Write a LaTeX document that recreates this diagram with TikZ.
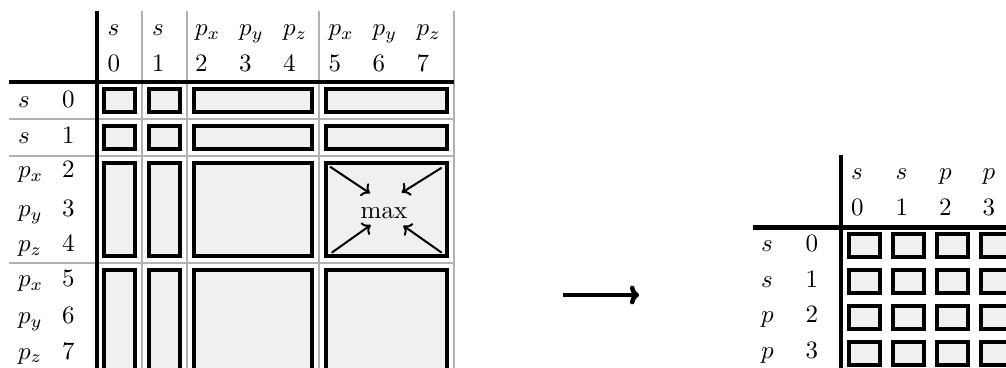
\documentclass[tikz,border=0pt]{standalone}
\usetikzlibrary{arrows.meta}
\tikzset{
  axisline/.style={line width=1.7pt, black},
  gridline/.style={line width=0.8pt, black!30},
  cellbox/.style={line width=1.6pt, draw=black, fill=black!6},
  lbl/.style={anchor=base west, inner sep=0pt, outer sep=0pt},
  pointer/.style={line width=0.8pt, -{To[length=3pt,width=6pt]}},
  mapsto/.style={line width=1.8pt, -{To[length=3.6pt,width=7.5pt]}},
}
\begin{document}
\begin{tikzpicture}[x=0.4pt, y=-0.4pt]
\useasboundingbox (0,0) rectangle (1006,367);
\clip (0,0) rectangle (1006,367);

% ---------- full 8x8 matrix ----------
% light separators between orbital blocks
\foreach \xx in {142.3, 186.7, 319.3, 454}
  \draw[gridline] (\xx,11) -- (\xx,380);
\foreach \yy in {119.3, 155.7, 263.3}
  \draw[gridline] (9,\yy) -- (454,\yy);
% axes
\draw[axisline] (97,11) -- (97,380);
\draw[axisline] (9,82) -- (454,82);

% block entries
\foreach \xa/\xb [count=\i] in {97/142.3, 142.3/186.7, 186.7/319.3, 319.3/454}
  \foreach \ya/\yb [count=\j] in {82/119.3, 119.3/155.7, 155.7/263.3, 263.3/378}
    \draw[cellbox] (\xa+7,\ya+7) rectangle (\xb-7,\yb-7);

% column labels
\foreach \xx/\orb/\idx in {107.5/s/0, 152/s/1, 195/p_x/2, 239/p_y/3, 283/p_z/4,
                           328.5/p_x/5, 372.5/p_y/6, 416.5/p_z/7} {
  \node[lbl] (co\idx) at (\xx,35.5) {$\orb$};
  \node[lbl] (ci\idx) at (\xx,71.7) {$\idx$};
}
% row labels
\foreach \yy/\orb/\idx in {107.5/s/0, 143.3/s/1, 177.3/p_x/2, 216.7/p_y/3,
                           251.7/p_z/4, 286.7/p_x/5, 323.3/p_y/6, 359/p_z/7} {
  \node[lbl] (ro\idx) at (18,\yy) {$\orb$};
  \node[lbl] (ri\idx) at (62,\yy) {$\idx$};
}

% reduction of the p-p block
\node[anchor=base, inner sep=0pt] (max) at (384,218.3) {max};
\coordinate (tl) at (330,166.7);
\coordinate (tr) at (441.7,167.7);
\coordinate (bl) at (331.7,252.7);
\coordinate (br) at (441.7,252.7);
\coordinate (tlE) at (370,193.3);
\coordinate (trE) at (401.7,192.7);
\coordinate (blE) at (370.7,225);
\coordinate (brE) at (403.3,225.7);
\draw[pointer] (tl) -- (tlE);
\draw[pointer] (tr) -- (trE);
\draw[pointer] (bl) -- (blE);
\draw[pointer] (br) -- (brE);

% ---------- mapping arrow ----------
\coordinate (from) at (563.3,295);
\coordinate (to) at (639,295);
\draw[mapsto] (from) -- (to);

% ---------- reduced matrix ----------
\draw[axisline] (841,155) -- (841,380);
\draw[axisline] (752.7,227.5) -- (1020,227.5);

\foreach \k in {0,...,3}
  \foreach \r in {0,...,3}
    \draw[cellbox] (864.5+44*\k-15.8, 245.3+36.1*\r-11.65)
      rectangle (864.5+44*\k+15.8, 245.3+36.1*\r+11.65);

\foreach \xx/\orb/\idx in {851/s/0, 895.5/s/1, 939/p/2, 982.5/p/3} {
  \node[lbl] (So\idx) at (\xx,179) {$\orb$};
  \node[lbl] (Si\idx) at (\xx,215) {$\idx$};
}
\foreach \yy/\orb/\idx in {251.7/s/0, 287/s/1, 322/p/2, 358.3/p/3} {
  \node[lbl] (Ro\idx) at (761,\yy) {$\orb$};
  \node[lbl] (Ri\idx) at (805.5,\yy) {$\idx$};
}
\end{tikzpicture}
\end{document}
